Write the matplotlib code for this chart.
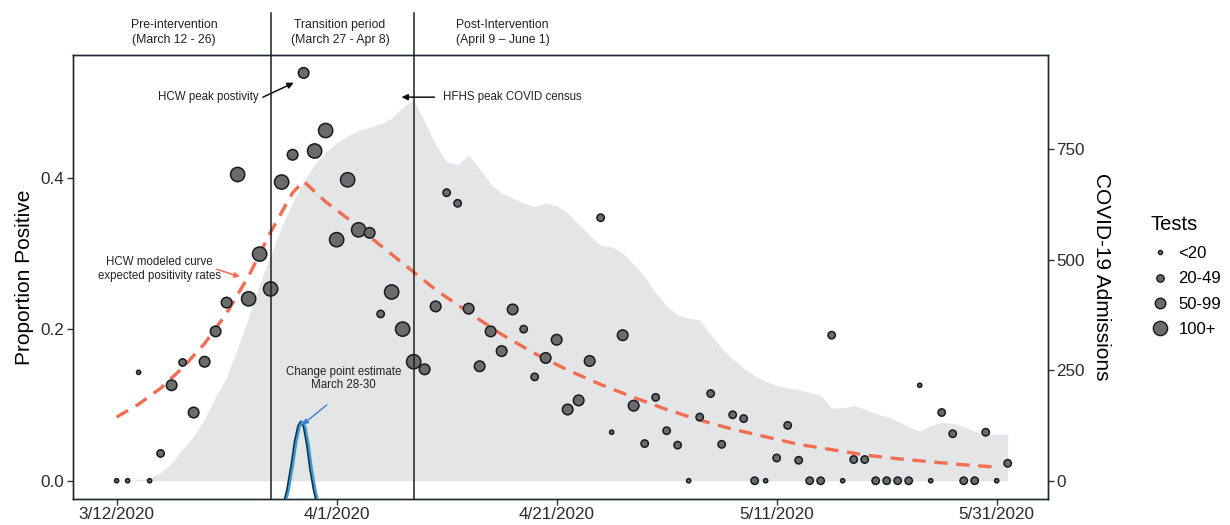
import numpy as np
import pandas as pd
import matplotlib
matplotlib.use("Agg")
import matplotlib.pyplot as plt
from matplotlib.lines import Line2D

# ---- data ----
start = pd.Timestamp("2020-03-12")

# proportion positive per day (day 0 = 3/12/2020 .. day 81 = 6/1/2020)
positivity = [0.0, 0.0, 0.143, 0.0, 0.036, 0.126, 0.156, 0.090, 0.157, 0.197,
              0.235, 0.404, 0.240, 0.299, 0.253, 0.394, 0.430, 0.538, 0.435, 0.462,
              0.318, 0.397, 0.331, 0.327, 0.220, 0.249, 0.200, 0.157, 0.147, 0.230,
              0.380, 0.366, 0.227, 0.151, 0.197, 0.171, 0.226, 0.200, 0.137, 0.162,
              0.186, 0.094, 0.106, 0.158, 0.347, 0.064, 0.192, 0.099, 0.049, 0.110,
              0.066, 0.047, 0.0, 0.084, 0.115, 0.048, 0.087, 0.082, 0.0, 0.0,
              0.030, 0.073, 0.027, 0.0, 0.0, 0.192, 0.0, 0.028, 0.028, 0.0,
              0.0, 0.0, 0.0, 0.126, 0.0, 0.090, 0.062, 0.0, 0.0, 0.064,
              0.0, 0.023]

tests = ["<20", "<20", "<20", "<20", "20-49", "50-99", "20-49", "50-99", "50-99", "50-99",
         "50-99", "100+", "100+", "100+", "100+", "100+", "50-99", "50-99", "100+", "100+",
         "100+", "100+", "100+", "50-99", "20-49", "100+", "100+", "100+", "50-99", "50-99",
         "20-49", "20-49", "50-99", "50-99", "50-99", "50-99", "50-99", "20-49", "20-49", "50-99",
         "50-99", "50-99", "50-99", "50-99", "20-49", "<20", "50-99", "50-99", "20-49", "20-49",
         "20-49", "20-49", "<20", "20-49", "20-49", "20-49", "20-49", "20-49", "20-49", "<20",
         "20-49", "20-49", "20-49", "20-49", "20-49", "20-49", "<20", "20-49", "20-49", "20-49",
         "20-49", "20-49", "20-49", "<20", "<20", "20-49", "20-49", "20-49", "20-49", "20-49",
         "<20", "20-49"]

# HFHS COVID-19 census (admissions), same days
census = [0, 1, 3, 6, 18, 40, 72, 100, 140, 190,
          235, 300, 370, 445, 510, 575, 630, 678, 715, 742,
          765, 780, 792, 800, 808, 820, 845, 862, 812, 760,
          722, 715, 737, 705, 672, 650, 640, 628, 620, 628,
          622, 606, 580, 555, 533, 529, 515, 490, 460, 425,
          395, 375, 368, 364, 330, 300, 275, 255, 238, 225,
          215, 210, 206, 200, 193, 165, 165, 170, 162, 152,
          145, 135, 122, 112, 125, 132, 130, 122, 112, 106,
          106, 106]

# modeled expected positivity curve
model_days = [0, 2, 4, 6, 8, 10, 12, 14, 16, 17, 19, 21, 23, 26, 29, 32, 35, 38,
              41, 44, 47, 50, 53, 56, 59, 62, 65, 68, 71, 74, 77, 80]
model_vals = [0.084, 0.101, 0.122, 0.149, 0.181, 0.221, 0.270, 0.328, 0.380, 0.395,
              0.368, 0.346, 0.322, 0.287, 0.252, 0.222, 0.193, 0.168, 0.146, 0.127,
              0.110, 0.094, 0.080, 0.068, 0.058, 0.048, 0.041, 0.034, 0.029, 0.025,
              0.021, 0.018]

# change point posterior density (drawn on the proportion scale)
cp_days = [15.1, 15.5, 15.9, 16.2, 16.5, 16.75, 17.0, 17.3, 17.6, 17.95, 18.3]
cp_vals = [-0.035, -0.012, 0.022, 0.052, 0.072, 0.078, 0.072, 0.048, 0.015, -0.014, -0.035]

size_labels = ["<20", "20-49", "50-99", "100+"]
size_areas = [9, 28, 58, 105]

tick_dates = ["2020-03-12", "2020-04-01", "2020-04-21", "2020-05-11", "2020-05-31"]
tick_labels = ["3/12/2020", "4/1/2020", "4/21/2020", "5/11/2020", "5/31/2020"]
period_lines = ["2020-03-26", "2020-04-08"]

# ---- figure ----
plt.rcParams["font.family"] = ["Liberation Sans", "DejaVu Sans"]
narrow = ["Liberation Sans Narrow", "Liberation Sans", "DejaVu Sans"]

fig = plt.figure(figsize=(12.3, 5.25), dpi=100)
ax = fig.add_axes([0.0593, 0.0495, 0.7927, 0.8457])
ax2 = ax.twinx()
ax.set_zorder(ax2.get_zorder() + 1)
ax.patch.set_visible(False)


def day(d):
    return start + pd.Timedelta(days=d)


dates = start + pd.to_timedelta(np.arange(len(positivity)), unit="D")

ax2.fill_between(dates, 0, census, color="#e4e5e6", lw=0)

# modeled curve
mdts = start + pd.to_timedelta(model_days, unit="D")
ax.plot(mdts, model_vals, color="#f26d52", lw=2.4, ls=(0, (4, 2.6)), zorder=2)

# change point density, two chains
cp = start + pd.to_timedelta(cp_days, unit="D")
cp2 = start + pd.to_timedelta(np.array(cp_days) + 0.15, unit="D")
ax.plot(cp, cp_vals, color="#16324f", lw=1.6, zorder=3)
ax.plot(cp2, cp_vals, color="#3a9ad6", lw=1.6, zorder=3)

# points
area_map = dict(zip(size_labels, size_areas))
ax.scatter(dates, positivity, s=[area_map[t] for t in tests], c="#6b6b6b",
           edgecolors="#141b22", linewidths=1.1, zorder=4)

# period lines, extending into the header band
for d in period_lines:
    ax.axvline(pd.Timestamp(d), ymin=0, ymax=1.095, color="#1f1f1f", lw=1.1,
               clip_on=False, zorder=5)

# limits
ax.set_xlim(day(-3.97), day(84.66))
ylo, yhi = -0.0241, 0.5616
ax.set_ylim(ylo, yhi)
ax2.set_ylim(ylo * 1715, yhi * 1715)

ax.set_xticks(pd.to_datetime(tick_dates))
ax.set_xticklabels(tick_labels)
ax.set_yticks([0.0, 0.2, 0.4])
ax.set_yticklabels(["0.0", "0.2", "0.4"])
ax2.set_yticks([0, 250, 500, 750])

for a in (ax, ax2):
    for s in a.spines.values():
        s.set_color("#1e2a33")
        s.set_linewidth(1.0)
    a.tick_params(length=4, width=1, color="#333333", labelsize=12.3,
                  labelcolor="#2b2b2b", pad=2)

ax.set_ylabel("Proportion Positive", fontsize=15)
ax.yaxis.set_label_coords(-0.040, 0.5)
ax2.set_ylabel("COVID-19 Admissions", fontsize=15, rotation=270, va="center")
ax2.yaxis.set_label_coords(1.055, 0.5)

# header band
hdr = dict(ha="center", va="center", fontsize=8.8, family=narrow,
           color="#222222", xycoords=("data", "axes fraction"), linespacing=1.3)
ax.annotate("Pre-intervention\n(March 12 - 26)", (day(5.2), 1.050), **hdr)
ax.annotate("Transition period\n(March 27 - Apr 8)", (day(20.3), 1.050), **hdr)
ax.annotate("Post-Intervention\n(April 9 \u2013 June 1)", (day(35.1), 1.050), **hdr)

# annotations
txt = dict(fontsize=8.3, family=narrow, color="#222222")
arrow_k = dict(arrowstyle="-|>", color="#111111", lw=1.1, shrinkA=0, shrinkB=0,
               mutation_scale=9)

ax.text(day(8.3), 0.506, "HCW peak postivity", ha="center", va="center", **txt)
ax.annotate("", xy=(day(16.1), 0.525), xytext=(day(13.3), 0.506), arrowprops=arrow_k)

ax.text(day(29.7), 0.506, "HFHS peak COVID census", ha="left", va="center", **txt)
ax.annotate("", xy=(day(25.9), 0.506), xytext=(day(28.9), 0.506), arrowprops=arrow_k)

ax.text(day(3.9), 0.279, "HCW modeled curve\nexpected positivity rates",
        ha="center", va="center", **txt)
ax.annotate("", xy=(day(11.2), 0.269), xytext=(day(9.1), 0.279),
            arrowprops=dict(arrow_k, color="#f26d52", mutation_scale=8))

ax.text(day(20.6), 0.135, "Change point estimate\nMarch 28-30",
        ha="center", va="center", **txt)
ax.annotate("", xy=(day(16.9), 0.074), xytext=(day(19.1), 0.100),
            arrowprops=dict(arrow_k, color="#3a7fd0", lw=1.0, mutation_scale=8))

# legend
handles = [Line2D([], [], ls="", marker="o", markersize=np.sqrt(a),
                  markerfacecolor="#6b6b6b", markeredgecolor="#141b22",
                  markeredgewidth=1.0) for a in size_areas]
leg = fig.legend(handles, size_labels, title="Tests", loc="upper left",
                 bbox_to_anchor=(0.923, 0.62), frameon=False, fontsize=12,
                 title_fontsize=14.5, handletextpad=0.5, labelspacing=0.62,
                 handlelength=1.2)
leg._legend_box.align = "left"
leg._legend_box.sep = 9

fig.savefig("out.png", dpi=100)
